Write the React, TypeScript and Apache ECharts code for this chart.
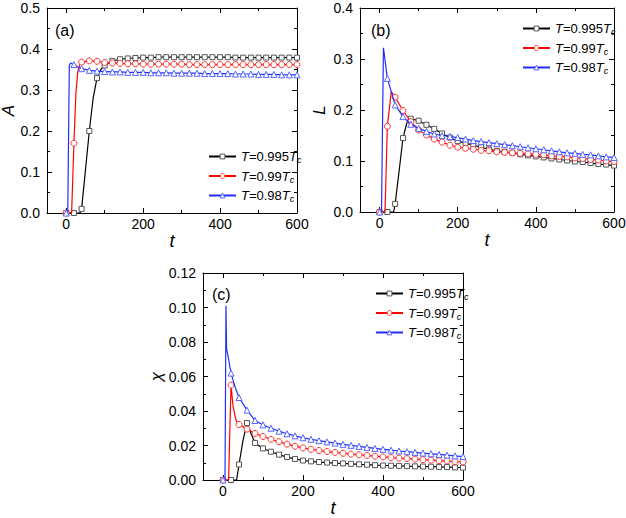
import React, { useEffect, useRef } from "react";
import * as echarts from "echarts";

// marker times (every 20 time units)
const T_MARK = [0, 20, 40, 60, 80, 100, 120, 140, 160, 180, 200, 220, 240, 260, 280, 300, 320, 340, 360, 380, 400, 420, 440, 460, 480, 500, 520, 540, 560, 580, 600];

// x-axis tick labels
const X_LABELS = [0, 200, 400, 600];
const X_MINOR = [100, 300, 500];

// legend names (T = x Tc)
const NAMES = ["0.995", "0.99", "0.98"];

// ---- panel (a): A(t)
const A_995 = [0, 0, 0.01, 0.2, 0.329, 0.36, 0.371, 0.375, 0.377, 0.378, 0.379, 0.379, 0.38, 0.38, 0.38, 0.38, 0.38, 0.38, 0.38, 0.38, 0.38, 0.38, 0.379, 0.379, 0.379, 0.379, 0.379, 0.379, 0.379, 0.379, 0.379];
const A_995_EXTRA = [[36, 0], [50, 0.105], [70, 0.28], [90, 0.35]];
const A_99 = [0, 0.17, 0.368, 0.371, 0.37, 0.367, 0.366, 0.365, 0.364, 0.364, 0.363, 0.363, 0.363, 0.363, 0.363, 0.363, 0.362, 0.362, 0.362, 0.362, 0.362, 0.362, 0.362, 0.362, 0.362, 0.362, 0.362, 0.362, 0.362, 0.362, 0.362];
const A_99_EXTRA = [[14, 0], [25, 0.29], [30, 0.345], [35, 0.362]];
const A_98 = [0, 0.362, 0.352, 0.348, 0.346, 0.345, 0.344, 0.344, 0.343, 0.343, 0.343, 0.342, 0.342, 0.342, 0.341, 0.341, 0.341, 0.341, 0.34, 0.34, 0.34, 0.34, 0.339, 0.339, 0.339, 0.338, 0.338, 0.338, 0.337, 0.337, 0.337];
const A_98_EXTRA = [[4, 0], [8, 0.36], [12, 0.366], [30, 0.356]];

// ---- panel (b): L(t)
const L_995 = [0, 0, 0.016, 0.145, 0.183, 0.179, 0.171, 0.163, 0.154, 0.146, 0.139, 0.135, 0.131, 0.127, 0.123, 0.12, 0.118, 0.116, 0.113, 0.111, 0.109, 0.107, 0.105, 0.103, 0.101, 0.099, 0.098, 0.096, 0.094, 0.093, 0.091];
const L_995_EXTRA = [[36, 0], [50, 0.08], [70, 0.175], [76, 0.185]];
const L_99 = [0, 0.168, 0.225, 0.199, 0.177, 0.161, 0.151, 0.143, 0.137, 0.131, 0.127, 0.125, 0.123, 0.121, 0.12, 0.118, 0.117, 0.116, 0.115, 0.114, 0.113, 0.112, 0.11, 0.109, 0.108, 0.106, 0.105, 0.103, 0.102, 0.1, 0.099];
const L_99_EXTRA = [[14, 0], [30, 0.236]];
const L_98 = [0, 0.262, 0.21, 0.187, 0.172, 0.164, 0.158, 0.153, 0.15, 0.148, 0.146, 0.143, 0.14, 0.138, 0.136, 0.134, 0.132, 0.13, 0.128, 0.126, 0.124, 0.122, 0.12, 0.118, 0.116, 0.115, 0.113, 0.112, 0.11, 0.108, 0.107];
const L_98_EXTRA = [[5, 0], [10, 0.322]];

// ---- panel (c): chi(t)
const C_995 = [0, 0, 0.009, 0.033, 0.0215, 0.0183, 0.0164, 0.0147, 0.0133, 0.0122, 0.0113, 0.0108, 0.0104, 0.0101, 0.0098, 0.0096, 0.0094, 0.0091, 0.0089, 0.0086, 0.0084, 0.0083, 0.0082, 0.008, 0.0079, 0.0078, 0.0077, 0.0076, 0.0075, 0.0073, 0.0072];
const C_995_EXTRA = [[34, 0], [50, 0.023], [70, 0.027]];
const C_99 = [0, 0.055, 0.0322, 0.0295, 0.027, 0.0252, 0.0236, 0.0222, 0.0208, 0.0196, 0.0186, 0.0178, 0.0171, 0.0165, 0.016, 0.0155, 0.015, 0.0146, 0.0142, 0.0138, 0.0134, 0.013, 0.0127, 0.0124, 0.0121, 0.0118, 0.0115, 0.0112, 0.011, 0.0107, 0.0105];
const C_99_EXTRA = [[14, 0], [25, 0.043], [30, 0.037], [35, 0.033]];
const C_98 = [0, 0.062, 0.0478, 0.0405, 0.0345, 0.032, 0.03, 0.0283, 0.0268, 0.0256, 0.0245, 0.0236, 0.0228, 0.0221, 0.0214, 0.0207, 0.0201, 0.0195, 0.0189, 0.0183, 0.0178, 0.0173, 0.0168, 0.0164, 0.016, 0.0156, 0.0152, 0.0148, 0.0144, 0.014, 0.0136];
const C_98_EXTRA = [[5, 0], [7.5, 0.101], [9, 0.076], [14, 0.07], [30, 0.054]];

const FONT = "'Liberation Sans', Arial, sans-serif";
const LINE_COLORS = ["#000000", "#ff0000", "#1f2eff"];
const MARK_COLORS = ["#555555", "#ff3333", "#5566ff"];
const SYMBOLS = ["rect", "circle", "triangle"];
const SYMBOL_SIZES = [5, 6, 6];

function buildData(marks: number[], extra: number[][]) {
  const pts: any[] = marks.map((v, i) => ({ value: [T_MARK[i], v] }));
  const ex: any[] = extra.map((p) => ({ value: p, symbol: "none" }));
  return [...pts, ...ex].sort((a, b) => a.value[0] - b.value[0]);
}

const PANELS = [
  {
    grid: { left: 47, top: 8, width: 250, height: 205 },
    yMax: 0.5, yInt: 0.1, digits: 1, yName: "A", yGap: 29, label: "(a)", labelPos: [55, 22],
    legend: { left: 203, top: 145 },
    series: [[A_995, A_995_EXTRA], [A_99, A_99_EXTRA], [A_98, A_98_EXTRA]],
  },
  {
    grid: { left: 360, top: 8, width: 254, height: 204 },
    yMax: 0.4, yInt: 0.1, digits: 1, yName: "L", yGap: 32, label: "(b)", labelPos: [371, 22],
    legend: { left: 517, top: 17 },
    series: [[L_995, L_995_EXTRA], [L_99, L_99_EXTRA], [L_98, L_98_EXTRA]],
  },
  {
    grid: { left: 203, top: 273, width: 260, height: 207 },
    yMax: 0.12, yInt: 0.02, digits: 2, yName: "χ", yGap: 36, label: "(c)", labelPos: [212, 286],
    legend: { left: 370, top: 282 },
    series: [[C_995, C_995_EXTRA], [C_99, C_99_EXTRA], [C_98, C_98_EXTRA]],
  },
];

function buildOption() {
  const grids: any[] = [];
  const xAxes: any[] = [];
  const yAxes: any[] = [];
  const series: any[] = [];
  const legends: any[] = [];
  const graphics: any[] = [];

  PANELS.forEach((p, pi) => {
    grids.push({ ...p.grid, show: false, outerBoundsMode: "none", containLabel: false });
    const baseX = {
      gridIndex: pi, type: "value", min: -50, max: 600,
      splitLine: { show: false },
    };
    xAxes.push({
      ...baseX, position: "bottom",
      name: "t", nameLocation: "middle", nameGap: 14,
      nameTextStyle: { fontStyle: "italic", fontSize: 18, color: "#000", fontFamily: FONT },
      axisLine: { show: true, onZero: false, lineStyle: { color: "#000", width: 1 } },
      axisTick: { show: true, inside: true, length: 5, customValues: X_LABELS, lineStyle: { color: "#000" } },
      axisLabel: { show: true, customValues: X_LABELS, margin: 4, color: "#000", fontSize: 14, fontFamily: FONT },
    });
    xAxes.push({
      ...baseX, position: "top",
      axisLine: { show: true, onZero: false, lineStyle: { color: "#000", width: 1 } },
      axisTick: { show: true, inside: true, length: 5, customValues: X_LABELS, lineStyle: { color: "#000" } },
      axisLabel: { show: false },
    });
    xAxes.push({
      ...baseX, position: "bottom",
      axisLine: { show: false, onZero: false },
      axisTick: { show: true, inside: true, length: 3, customValues: X_MINOR, lineStyle: { color: "#000" } },
      axisLabel: { show: false },
    });
    xAxes.push({
      ...baseX, position: "top",
      axisLine: { show: false, onZero: false },
      axisTick: { show: true, inside: true, length: 3, customValues: X_MINOR, lineStyle: { color: "#000" } },
      axisLabel: { show: false },
    });
    const baseY = {
      gridIndex: pi, type: "value", min: 0, max: p.yMax, interval: p.yInt,
      splitLine: { show: false },
      minorTick: { show: true, splitNumber: 2, length: 3, lineStyle: { color: "#000" } },
      minorSplitLine: { show: false },
    };
    yAxes.push({
      ...baseY, position: "left",
      name: p.yName, nameLocation: "middle", nameGap: p.yGap,
      nameTextStyle: { fontStyle: "italic", fontSize: 17, color: "#000", fontFamily: FONT },
      axisLine: { show: true, onZero: false, lineStyle: { color: "#000", width: 1 } },
      axisTick: { show: true, inside: true, length: 5, lineStyle: { color: "#000" } },
      axisLabel: {
        show: true, margin: 7, color: "#000", fontSize: 14, fontFamily: FONT,
        formatter: (v: number) => v.toFixed(p.digits),
      },
    });
    yAxes.push({
      ...baseY, position: "right",
      axisLine: { show: true, onZero: false, lineStyle: { color: "#000", width: 1 } },
      axisTick: { show: true, inside: true, length: 5, lineStyle: { color: "#000" } },
      axisLabel: { show: false },
    });

    p.series.forEach((s, si) => {
      series.push({
        type: "line",
        name: NAMES[si],
        xAxisIndex: pi * 4,
        yAxisIndex: pi * 2,
        data: buildData(s[0] as number[], s[1] as number[][]),
        symbol: SYMBOLS[si],
        symbolSize: SYMBOL_SIZES[si],
        showAllSymbol: true,
        lineStyle: { color: LINE_COLORS[si], width: 1.2 },
        itemStyle: { color: "#ffffff", borderColor: MARK_COLORS[si], borderWidth: 1 },
        z: 2 + si,
        emphasis: { disabled: true },
      });
    });

    legends.push({
      left: p.legend.left, top: p.legend.top, orient: "vertical",
      itemWidth: 27, itemHeight: 6, itemGap: 5,
      data: NAMES, selectedMode: false,
      itemStyle: { color: "#ffffff", borderWidth: 1 },
      formatter: (name: string) => `{i|T}{n|=${name}}{i|T}{s|c}`,
      textStyle: {
        color: "#000", fontFamily: FONT, fontSize: 13,
        rich: {
          i: { fontStyle: "italic", fontSize: 13, color: "#000", fontFamily: FONT },
          n: { fontSize: 13, color: "#000", fontFamily: FONT },
          s: { fontStyle: "italic", fontSize: 9, color: "#000", fontFamily: FONT, padding: [7, 0, 0, 0] },
        },
      },
    });

    graphics.push({
      type: "text", left: p.labelPos[0], top: p.labelPos[1],
      style: { text: p.label, fontSize: 16, fill: "#000", fontFamily: FONT },
    });
  });

  return {
    animation: false,
    backgroundColor: "#ffffff",
    textStyle: { fontFamily: FONT },
    grid: grids,
    xAxis: xAxes,
    yAxis: yAxes,
    series,
    legend: legends,
    graphic: graphics,
  };
}

export default function App() {
  const ref = useRef<HTMLDivElement>(null);
  useEffect(() => {
    if (!ref.current) return;
    const chart = echarts.init(ref.current, null, { renderer: "svg" });
    chart.setOption(buildOption() as any);
    return () => chart.dispose();
  }, []);
  return (
    <div
      ref={ref}
      style={{ position: "absolute", left: 0, top: 0, width: 626, height: 518, background: "#fff" }}
    />
  );
}
